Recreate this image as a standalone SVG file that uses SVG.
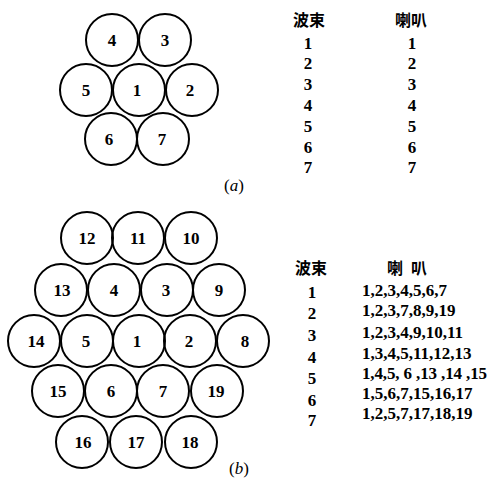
<svg xmlns="http://www.w3.org/2000/svg" width="487" height="482" viewBox="0 0 487 482">
<style>
.c{fill:none;stroke:#000;stroke-width:2}
.n{font-family:"Liberation Serif","Times New Roman",serif;font-size:17px;font-weight:bold;text-anchor:middle;fill:#000}
.t{font-family:"Liberation Serif","Times New Roman",serif;font-size:17px;font-weight:bold;fill:#000}
.h{font-family:"Noto Sans CJK SC","Noto Sans CJK TC",sans-serif;font-size:16px;font-weight:bold;text-anchor:middle;fill:#000}
.cap{font-family:"Liberation Serif","Times New Roman",serif;font-size:17px;text-anchor:middle;fill:#000}
</style>
<rect width="487" height="482" fill="#fff"/>
<g id="diagram-a">
<g id="a4"><circle class="c" cx="112" cy="40" r="26"/><text class="n" x="112" y="46">4</text></g>
<g id="a3"><circle class="c" cx="165" cy="40" r="26"/><text class="n" x="165" y="46">3</text></g>
<g id="a5"><circle class="c" cx="86" cy="90" r="26"/><text class="n" x="86" y="96">5</text></g>
<g id="a1"><circle class="c" cx="139" cy="90" r="26"/><text class="n" x="137" y="96">1</text></g>
<g id="a2"><circle class="c" cx="192" cy="90" r="26"/><text class="n" x="190" y="96">2</text></g>
<g id="a6"><circle class="c" cx="111" cy="139" r="26"/><text class="n" x="109" y="145">6</text></g>
<g id="a7"><circle class="c" cx="163" cy="139" r="26"/><text class="n" x="162" y="145">7</text></g>
</g>
<g id="table-a">
<text class="h" x="309" y="26">波束</text>
<text class="h" x="411" y="26">喇叭</text>
<text class="n" x="308" y="49">1</text><text class="n" x="412" y="49">1</text>
<text class="n" x="308" y="69">2</text><text class="n" x="412" y="69">2</text>
<text class="n" x="308" y="90">3</text><text class="n" x="412" y="90">3</text>
<text class="n" x="308" y="111">4</text><text class="n" x="412" y="111">4</text>
<text class="n" x="308" y="132">5</text><text class="n" x="412" y="132">5</text>
<text class="n" x="308" y="153">6</text><text class="n" x="412" y="153">6</text>
<text class="n" x="308" y="173">7</text><text class="n" x="412" y="173">7</text>
</g>
<text class="cap" x="234" y="191">(<tspan font-style="italic">a</tspan>)</text>
<g id="diagram-b">
<g id="b12"><circle class="c" cx="87" cy="238" r="26"/><text class="n" x="87" y="244">12</text></g>
<g id="b11"><circle class="c" cx="138" cy="238" r="26"/><text class="n" x="138" y="244">11</text></g>
<g id="b10"><circle class="c" cx="191" cy="238" r="26"/><text class="n" x="191" y="244">10</text></g>
<g id="b13"><circle class="c" cx="61" cy="290" r="26"/><text class="n" x="62" y="296">13</text></g>
<g id="b4"><circle class="c" cx="114" cy="290" r="26"/><text class="n" x="114" y="296">4</text></g>
<g id="b3"><circle class="c" cx="167" cy="290" r="26"/><text class="n" x="166" y="296">3</text></g>
<g id="b9"><circle class="c" cx="219" cy="290" r="26"/><text class="n" x="219" y="296">9</text></g>
<g id="b14"><circle class="c" cx="34" cy="341" r="26"/><text class="n" x="36" y="347">14</text></g>
<g id="b5"><circle class="c" cx="87" cy="341" r="26"/><text class="n" x="86" y="347">5</text></g>
<g id="b1"><circle class="c" cx="139" cy="341" r="26"/><text class="n" x="137" y="347">1</text></g>
<g id="b2"><circle class="c" cx="190" cy="341" r="26"/><text class="n" x="189" y="347">2</text></g>
<g id="b8"><circle class="c" cx="243" cy="341" r="26"/><text class="n" x="245" y="347">8</text></g>
<g id="b15"><circle class="c" cx="58" cy="391" r="26"/><text class="n" x="58" y="397">15</text></g>
<g id="b6"><circle class="c" cx="111" cy="391" r="26"/><text class="n" x="111" y="397">6</text></g>
<g id="b7"><circle class="c" cx="163" cy="391" r="26"/><text class="n" x="163" y="397">7</text></g>
<g id="b19"><circle class="c" cx="217" cy="391" r="26"/><text class="n" x="216" y="397">19</text></g>
<g id="b16"><circle class="c" cx="82" cy="442" r="26"/><text class="n" x="83" y="448">16</text></g>
<g id="b17"><circle class="c" cx="136" cy="442" r="26"/><text class="n" x="136" y="448">17</text></g>
<g id="b18"><circle class="c" cx="191" cy="442" r="26"/><text class="n" x="190" y="448">18</text></g>
</g>
<g id="table-b">
<text class="h" x="311" y="274">波束</text>
<text class="h" x="411" y="274" letter-spacing="8">喇叭</text>
<text class="n" x="312" y="298">1</text>
<text class="n" x="312" y="319">2</text>
<text class="n" x="312" y="341">3</text>
<text class="n" x="312" y="363">4</text>
<text class="n" x="312" y="384">5</text>
<text class="n" x="312" y="406">6</text>
<text class="n" x="312" y="426">7</text>
<text class="t" x="362" y="296">1,2,3,4,5,6,7</text>
<text class="t" x="362" y="316">1,2,3,7,8,9,19</text>
<text class="t" x="362" y="338">1,2,3,4,9,10,11</text>
<text class="t" x="362" y="359">1,3,4,5,11,12,13</text>
<text class="t" x="362" y="379" textLength="125">1,4,5, 6 ,13 ,14 ,15</text>
<text class="t" x="362" y="399">1,5,6,7,15,16,17</text>
<text class="t" x="362" y="419">1,2,5,7,17,18,19</text>
</g>
<text class="cap" x="239" y="474">(<tspan font-style="italic">b</tspan>)</text>
</svg>
